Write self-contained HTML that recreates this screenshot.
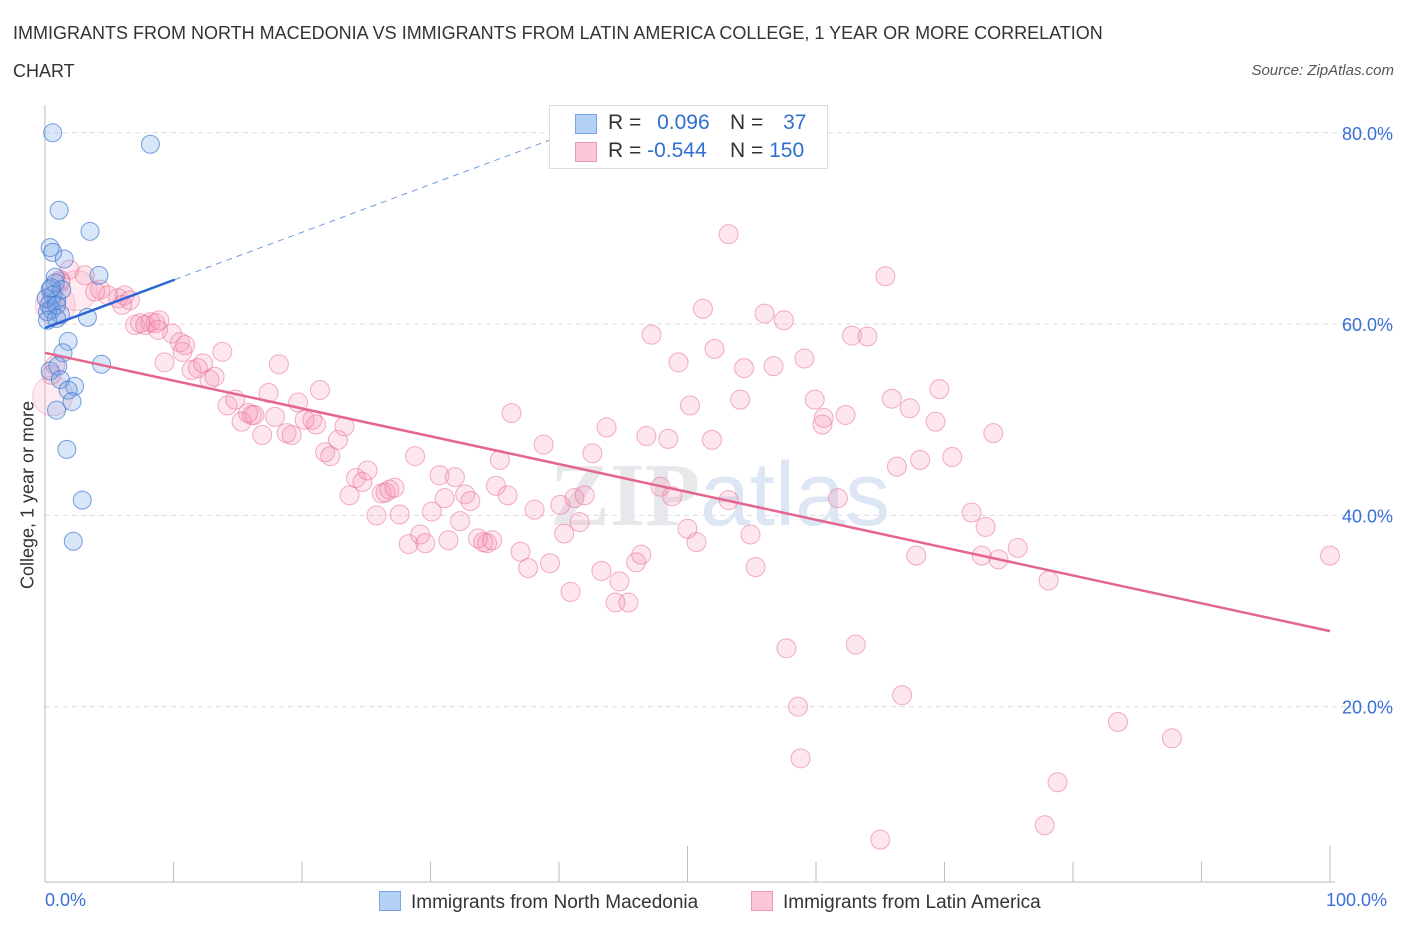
<!DOCTYPE html>
<html><head><meta charset="utf-8"><style>
body{margin:0;background:#fff;font-family:"Liberation Sans",sans-serif;}
#wrap{position:relative;width:1406px;height:930px;overflow:hidden;}
.t{position:absolute;white-space:nowrap;}
</style></head><body>
<div id="wrap">
<div class="t" style="left:13px;top:14px;font-size:18px;color:#333;line-height:38px;width:1140px;white-space:normal">IMMIGRANTS FROM NORTH MACEDONIA VS IMMIGRANTS FROM LATIN AMERICA COLLEGE, 1 YEAR OR MORE CORRELATION CHART</div>
<div class="t" style="right:12px;top:62px;font-size:15px;font-style:italic;color:#555">Source: ZipAtlas.com</div>
<svg id="plot" width="1406" height="930" style="position:absolute;left:0;top:0"></svg>
</div>
<script>
const blueX=[0.6,8.2,1.1,3.5,0.4,0.6,1.5,4.2,0.8,0.8,0.4,0.6,0.9,0.3,0.5,1.2,3.3,1.8,1.4,4.4,0.4,1.0,1.2,2.3,1.8,2.1,0.9,1.7,2.9,2.2,0.2,0.1,0.9,1.3,0.2,0.9,0.5];
const blueY=[80.0,78.8,71.9,69.7,68.0,67.5,66.8,65.1,64.9,64.3,63.6,63.0,62.5,62.0,61.5,61.0,60.7,58.2,57.0,55.8,55.1,55.6,54.2,53.5,53.1,51.9,51.0,46.9,41.6,37.3,61.3,62.7,62.0,63.6,60.4,60.6,63.8];
const pinkX=[0.5,1.2,1.9,3.1,4.3,5.7,6.2,6.6,7.0,7.8,8.2,8.6,8.9,9.9,10.5,10.7,9.3,11.4,11.9,12.3,12.8,13.2,13.8,14.2,14.8,15.3,15.8,16.1,16.3,16.9,17.4,17.9,18.2,18.8,19.2,19.7,20.2,20.8,21.1,21.4,21.8,22.2,22.8,23.3,23.7,24.2,24.7,25.1,25.8,26.2,26.5,26.8,27.2,27.6,28.3,28.8,29.2,29.6,30.1,30.7,31.1,31.4,31.9,32.3,32.7,33.1,33.7,34.1,34.4,34.8,35.1,35.4,36.0,36.3,37.0,37.6,38.1,38.8,39.3,40.1,40.4,40.9,41.2,41.6,42.0,42.6,43.3,43.7,44.4,44.7,45.4,46.0,46.4,46.8,47.2,47.9,48.5,48.8,49.3,50.0,50.2,50.7,51.2,51.9,52.1,53.2,53.2,54.1,54.4,54.9,55.3,56.0,56.7,57.5,57.7,58.6,58.8,59.1,59.9,60.5,60.6,61.7,62.3,62.8,63.1,64.0,65.0,65.4,65.9,66.3,66.7,67.3,67.8,68.1,69.3,69.6,70.6,72.1,72.9,73.2,73.8,74.2,75.7,77.8,78.1,78.8,83.5,87.7,100,1.2,3.9,4.9,6.0,7.4,10.9,8.8,0.5,0.8];
const pinkY=[62.5,64.6,65.7,65.1,63.6,62.7,63.0,62.5,59.9,59.9,60.2,60.1,60.4,59.0,58.1,57.1,56.0,55.2,55.4,55.9,54.2,54.5,57.1,51.5,52.1,49.8,50.7,50.5,50.5,48.4,52.8,50.3,55.8,48.6,48.4,51.8,50.0,50.0,49.5,53.1,46.6,46.2,47.9,49.3,42.1,43.9,43.5,44.7,40.0,42.3,42.4,42.7,42.9,40.1,37.0,46.2,38.0,37.1,40.4,44.2,41.8,37.4,44.0,39.4,42.2,41.5,37.6,37.2,37.1,37.4,43.1,45.8,42.1,50.7,36.2,34.5,40.6,47.4,35.0,41.1,38.1,32.0,41.8,39.3,42.1,46.5,34.2,49.2,30.9,33.1,30.9,35.1,35.9,48.3,58.9,43.0,48.0,42.0,56.0,38.6,51.5,37.2,61.6,47.9,57.4,41.6,69.4,52.1,55.4,38.0,34.6,61.1,55.6,60.4,26.1,20.0,14.6,56.4,52.1,49.5,50.2,41.8,50.5,58.8,26.5,58.7,6.1,65.0,52.2,45.1,21.2,51.2,35.8,45.8,49.8,53.2,46.1,40.3,35.8,38.8,48.6,35.4,36.6,7.6,33.2,12.1,18.4,16.7,35.8,64.4,63.4,63.0,62.0,60.1,57.8,59.4,54.7,55.7];
const yTicks=[20,40,60,80];
const yTickLabels=["20.0%","40.0%","60.0%","80.0%"];
const xTicks=[0,10,20,30,40,50,60,70,80,90,100];
const blueTrend=[59.6,0.5];
const pinkTrend=[57.0,-0.291];

const X0=45,X1=1330;
const sx=v=>X0+(X1-X0)*v/100;
const sy=v=>898-9.565*v;
const svg=document.getElementById('plot');
const NS='http://www.w3.org/2000/svg';
function mk(tag,attrs){const e=document.createElementNS(NS,tag);for(const k in attrs)e.setAttribute(k,attrs[k]);svg.appendChild(e);return e;}

yTicks.forEach((v,i)=>{
  const g=mk('line',{x1:X0,x2:1395,y1:sy(v),y2:sy(v),stroke:'#dcdcdc','stroke-dasharray':'5,4'});
  
  
  const t=mk('text',{x:1393,y:sy(v)+7,'text-anchor':'end','font-size':18,fill:'#3a6fd8','font-family':'Liberation Sans, sans-serif'});
  t.textContent=yTickLabels[i];
  
  
});
mk('line',{x1:X0,x2:X0,y1:105,y2:882,stroke:'#bbb'});
const xa=mk('line',{x1:X0,x2:X1+5,y1:882,y2:882,stroke:'#bbb'});


xTicks.forEach(v=>{
  const tk=mk('line',{x1:sx(v),x2:sx(v),y1:(v==50||v==100)?846:862,y2:882,stroke:'#bbb'});
  
  
});
const wm=mk('text',{x:720,y:525,'text-anchor':'middle','font-size':90,fill:'#e8e8ec','font-family':'Liberation Serif, serif','font-weight':'bold'});
wm.innerHTML='ZIP<tspan fill="#dde6f4" font-family="Liberation Sans, sans-serif" font-weight="normal">atlas</tspan>';



[[0.8,62],[0.6,52.5],[2.5,63.5]].forEach(p=>{
  const c=mk('circle',{cx:sx(p[0]),cy:sy(p[1]),r:20,fill:'rgba(244,143,177,0.18)',stroke:'rgba(232,110,150,0.35)'});
  
  
});
pinkX.forEach((x,i)=>{
  const c=mk('circle',{cx:sx(x),cy:sy(pinkY[i]),r:9.5,fill:'rgba(244,143,177,0.22)',stroke:'rgba(232,110,150,0.55)','stroke-width':1});
  
  
});
blueX.forEach((x,i)=>{
  const c=mk('circle',{cx:sx(x),cy:sy(blueY[i]),r:9,fill:'rgba(120,165,230,0.28)',stroke:'rgba(60,120,210,0.7)','stroke-width':1});
  
  
});
const bf=x=>blueTrend[0]+blueTrend[1]*x;
const bl=mk('line',{x1:sx(0),y1:sy(bf(0)),x2:sx(10.1),y2:sy(bf(10.1)),stroke:'#2a66d6','stroke-width':2.5});


const bd=mk('line',{x1:sx(10.1),y1:sy(bf(10.1)),x2:sx(40.1),y2:sy(bf(40.1)),stroke:'#6f9ae0','stroke-width':1,'stroke-dasharray':'6,5'});


const pf=x=>pinkTrend[0]+pinkTrend[1]*x;
const pl=mk('line',{x1:sx(0),y1:sy(pf(0)),x2:sx(100),y2:sy(pf(100)),stroke:'#e4668f','stroke-width':2.5});


</script>
<div class="t" style="left:28px;top:495px;transform:translate(-50%,-50%) rotate(-90deg);font-size:18px;color:#333">College, 1 year or more</div>
<div class="t" style="left:45px;top:890px;font-size:18px;color:#3a6fd8">0.0%</div>
<div class="t" style="left:1326px;top:890px;font-size:18px;color:#3a6fd8">100.0%</div>
<div style="position:absolute;left:549px;top:105px;width:277px;height:62px;border:1px solid #ddd;background:#fff;font-size:21px;color:#333">
  <div style="position:absolute;left:25px;top:8px;width:20px;height:18px;background:#b5d0f5;border:1px solid #7aa4e4"></div>
  <div class="t" style="left:58px;top:5px">R = <span style="color:#2f6fd0;margin-left:10px">0.096</span></div>
  <div class="t" style="left:180px;top:5px">N = <span style="color:#2f6fd0;margin-left:14px">37</span></div>
  <div style="position:absolute;left:25px;top:36px;width:20px;height:18px;background:#fbc6d6;border:1px solid #ef99b5"></div>
  <div class="t" style="left:58px;top:33px">R = <span style="color:#2f6fd0">-0.544</span></div>
  <div class="t" style="left:180px;top:33px">N = <span style="color:#2f6fd0">150</span></div>
</div>
<div style="position:absolute;left:379px;top:891px;font-size:19px;color:#333">
  <span style="display:inline-block;width:20px;height:18px;background:#b5d0f5;border:1px solid #7aa4e4;vertical-align:-3px;margin-right:10px"></span>Immigrants from North Macedonia</div>
<div style="position:absolute;left:751px;top:891px;font-size:19px;color:#333">
  <span style="display:inline-block;width:20px;height:18px;background:#fbc6d6;border:1px solid #ef99b5;vertical-align:-3px;margin-right:10px"></span>Immigrants from Latin America</div>
</body></html>
